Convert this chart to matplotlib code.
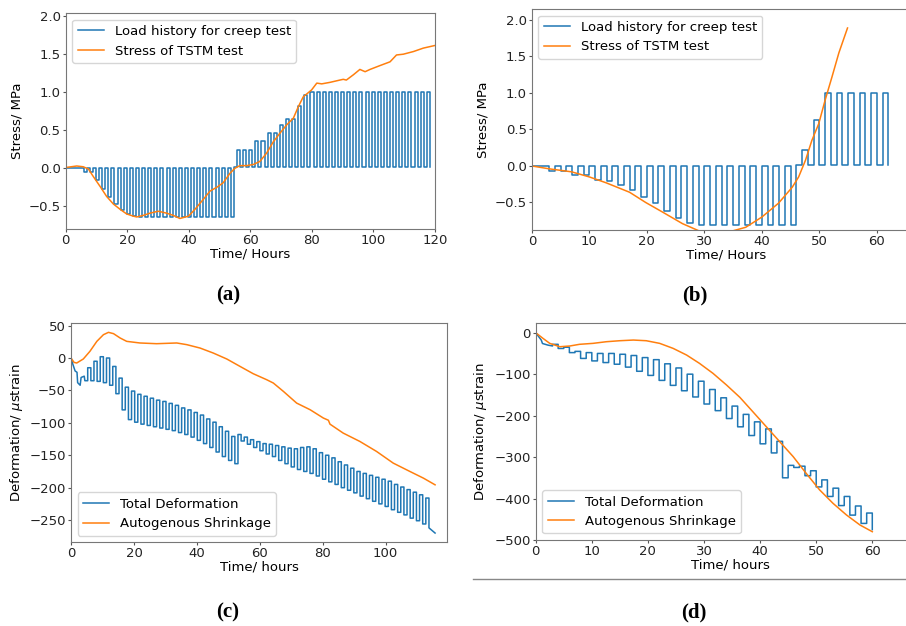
import numpy as np
import matplotlib
matplotlib.use("Agg")
import matplotlib.pyplot as plt
from matplotlib.lines import Line2D

BLUE = "#1f77b4"
ORANGE = "#ff7f0e"

# ---- (a) load history, 120 h test ----
a_start = 5.9 + 1.99 * np.arange(57)
a_amp = ([-0.05, -0.05, -0.15, -0.27, -0.38, -0.47, -0.55, -0.60, -0.63]
         + [-0.64] * 16 + [0.24] * 3 + [0.36] * 2 + [0.47] * 2 + [0.57]
         + [0.65] * 2 + [0.82, 0.96] + [1.0] * 20)
a_base = [0.0] * 24 + [0.02] * 33
a_tstm_t = [0, 3.6, 5.7, 7.4, 9, 11.2, 13.3, 15.5, 17.7, 19.8, 22, 23.1, 25.2, 27.4,
            30.1, 32.8, 35, 37.1, 39.9, 42, 44.7, 46.9, 49.1, 51.2, 53.4, 55, 56.6,
            58.8, 61, 63.1, 65.3, 67.5, 69.6, 71.8, 74, 75.6, 77.2, 79.9, 81.6, 83.2,
            85.9, 89.1, 90.2, 91.2, 93.5, 95.6, 97.3, 98.9, 102.1, 105.4, 107.5,
            109.7, 113, 116.2, 120]
a_tstm_v = [0.01, 0.03, 0.02, -0.01, -0.11, -0.24, -0.37, -0.47, -0.54, -0.60, -0.63,
            -0.64, -0.62, -0.59, -0.565, -0.59, -0.62, -0.66, -0.63, -0.54, -0.41,
            -0.30, -0.25, -0.19, -0.065, 0.0, 0.035, 0.035, 0.05, 0.09, 0.20, 0.35,
            0.46, 0.57, 0.66, 0.81, 0.94, 1.03, 1.12, 1.11, 1.13, 1.16, 1.17, 1.16,
            1.23, 1.30, 1.27, 1.30, 1.35, 1.40, 1.49, 1.50, 1.535, 1.58, 1.615]

# ---- (b) load history, 62 h test ----
b_start = 3 + 2 * np.arange(30)
b_amp = ([-0.07, -0.07, -0.13, -0.13, -0.19, -0.20, -0.26, -0.33, -0.42, -0.51,
          -0.61, -0.71, -0.78] + [-0.81] * 9 + [0.22, 0.63] + [1.0] * 6)
b_base = [0.0] * 21 + [0.02] * 9
b_tstm_t = [0, 3.1, 6.9, 10, 12.9, 17, 19.8, 22.7, 26.2, 29.1, 32.5, 34.9, 37.2, 40,
            42.9, 45.3, 46.4, 47.6, 48.7, 49.9, 51, 52.2, 53.4, 54.9]
b_tstm_v = [0, -0.04, -0.08, -0.15, -0.23, -0.36, -0.50, -0.63, -0.79, -0.89, -0.90,
            -0.89, -0.84, -0.70, -0.51, -0.29, -0.15, 0.08, 0.35, 0.58, 0.90, 1.22,
            1.55, 1.89]

# ---- (c) deformation, 120 h test ----
c_pre_t = [0, 0.6, 1.3, 1.9, 2.1, 2.9, 3.2, 4.2, 4.4, 5.3]
c_pre_v = [0, -10, -20, -22, -38, -42, -30, -28, -35, -35]
c_start = 5.3 + 1.99 * np.arange(55)
c_top = [-15, -5, 2, 0, -13, -31, -45, -51, -56, -59, -62, -65, -67, -70, -73, -77,
         -80, -84, -88, -94, -99, -106, -113, -121,
         -118, -122, -126, -129, -132, -133, -135, -137, -139, -140, -138, -137,
         -140, -146, -150, -154, -160, -165, -170, -175, -178, -181, -184, -187,
         -190, -195, -199, -203, -207, -211, -216]
c_bot = [-35, -36, -38, -42, -55, -80, -95, -99, -102, -104, -106, -108, -110, -112,
         -115, -118, -122, -127, -132, -138, -145, -152, -158, -163,
         -128, -133, -138, -143, -148, -152, -158, -163, -168, -172, -175, -178,
         -182, -187, -191, -195, -200, -204, -208, -213, -217, -221, -225, -229,
         -234, -238, -242, -247, -251, -256, -262]
c_end_t, c_end_v = 115.7, -270
c_auto_t = [0, 0.95, 1.8, 3.9, 6, 8.2, 10.3, 11.9, 13.5, 15.6, 17.7, 21.9, 27.2, 33.6,
            36.8, 41, 45.2, 49.5, 53.7, 57.9, 62.2, 64.3, 67.5, 71.7, 76, 80.2, 81.8,
            82.3, 86.5, 91.8, 97.1, 102.4, 107.7, 112, 115.7]
c_auto_v = [0, -6.7, -7.7, -1.5, 10.3, 25.7, 36, 39.6, 37.6, 30.9, 25.7, 23.2, 22.1,
            23.2, 20.6, 15.4, 7.7, -1.5, -12.9, -24.2, -33.5, -38.6, -51.5, -69.5,
            -79.8, -92.6, -96, -102, -115.8, -128.7, -144.1, -162.1, -175, -185.3,
            -195.6]

# ---- (d) deformation, 62 h test ----
d_pre_t = [0, 1.0, 1.2, 2.2, 3.0]
d_pre_v = [0, -18, -26, -30, -32]
d_start = 3 + 2 * np.arange(29)
d_top = [-28, -35, -45, -48, -50, -50, -52, -55, -60, -65, -75, -85, -100, -117,
         -137, -157, -177, -197, -215, -232, -262, -320, -322, -333, -355, -375,
         -395, -418, -435]
d_bot = [-38, -48, -62, -68, -72, -76, -83, -93, -103, -115, -127, -140, -155, -172,
         -188, -207, -227, -248, -268, -290, -350, -325, -345, -372, -395, -417,
         -440, -460, -475]
d_auto_t = [0, 1.3, 2.5, 4.3, 6.1, 7.8, 10.2, 12.6, 15, 17.4, 19.7, 22.1, 24.5, 26.9,
            29.2, 31.6, 34, 36.4, 38.7, 41.1, 43.5, 45.9, 48.2, 50.6, 53, 55.4, 57.8,
            60]
d_auto_v = [0, -13.7, -25.7, -33.8, -32, -28, -25.7, -21.7, -19.3, -17.7, -19.3,
            -25.7, -37.8, -53.9, -74, -98, -126, -156, -190.5, -226.7, -262.9, -299,
            -339, -379, -411.6, -439.7, -463.8, -480]


def cycles(pre_t, pre_v, starts, first, second, width, end):
    x = list(pre_t)
    y = list(pre_v)
    for i, t in enumerate(starts):
        nxt = starts[i + 1] if i + 1 < len(starts) else end
        x += [t, t + width, t + width, nxt]
        y += [first[i], first[i], second[i], second[i]]
    return x, y


plt.rcParams['font.family'] = ['DejaVu Sans']
plt.rcParams['font.size'] = 9.5
plt.rcParams['axes.edgecolor'] = '#777777'
plt.rcParams['xtick.color'] = '#555555'
plt.rcParams['ytick.color'] = '#555555'
plt.rcParams['xtick.labelcolor'] = '#222222'
plt.rcParams['ytick.labelcolor'] = '#222222'
plt.rcParams['xtick.major.size'] = 2.5
plt.rcParams['ytick.major.size'] = 2.5
plt.rcParams['xtick.major.pad'] = 1.2
plt.rcParams['ytick.major.pad'] = 1.2
plt.rcParams['axes.labelpad'] = 3.5

fig = plt.figure(figsize=(9.06, 6.26), dpi=100)

# (a)
ax = fig.add_axes([0.0725, 0.634, 0.4076, 0.345])
x, y = cycles([0, a_start[0]], [0, 0], a_start, a_amp, a_base, 1.0, a_start[-1] + 1.0)
ax.plot(x, y, color=BLUE, lw=1.1, label='Load history for creep test')
ax.plot(a_tstm_t, a_tstm_v, color=ORANGE, lw=1.1, label='Stress of TSTM test')
ax.set_xlim(0, 120)
ax.set_ylim(-0.80, 2.04)
ax.set_xticks([0, 20, 40, 60, 80, 100, 120])
ax.set_yticks([-0.5, 0.0, 0.5, 1.0, 1.5, 2.0])
ax.set_xlabel('Time/ Hours', labelpad=0)
ax.set_ylabel('Stress/ MPa')
ax.legend(loc='upper left')

# (b)
ax = fig.add_axes([0.587, 0.6326, 0.43, 0.353])
x, y = cycles([0, b_start[0]], [0, 0], b_start, b_amp, b_base, 1.0, 62)
ax.plot(x, y, color=BLUE, lw=1.1, label='Load history for creep test')
ax.plot(b_tstm_t, b_tstm_v, color=ORANGE, lw=1.1, label='Stress of TSTM test')
ax.set_xlim(0, 67.75)
ax.set_ylim(-0.877, 2.15)
ax.set_xticks([0, 10, 20, 30, 40, 50, 60])
ax.set_yticks([-0.5, 0.0, 0.5, 1.0, 1.5, 2.0])
ax.set_xlabel('Time/ Hours', labelpad=0)
ax.set_ylabel('Stress/ MPa')
ax.legend(loc='upper left')

# (c)
ax = fig.add_axes([0.0784, 0.134, 0.415, 0.350])
x, y = cycles(c_pre_t, c_pre_v, c_start, c_top, c_bot, 1.0, c_start[-1] + 1.0)
x.append(c_end_t)
y.append(c_end_v)
ax.plot(x, y, color=BLUE, lw=1.1, label='Total Deformation')
ax.plot(c_auto_t, c_auto_v, color=ORANGE, lw=1.1, label='Autogenous Shrinkage')
ax.set_xlim(0, 119.5)
ax.set_ylim(-284, 54)
ax.set_xticks([0, 20, 40, 60, 80, 100])
ax.set_yticks([-250, -200, -150, -100, -50, 0, 50])
ax.set_xlabel('Time/ hours', labelpad=0)
ax.set_ylabel(r'Deformation/ $\mu$strain')
ax.legend(loc='lower left')

# (d)
ax = fig.add_axes([0.5913, 0.1374, 0.43, 0.347])
x, y = cycles(d_pre_t, d_pre_v, d_start, d_top, d_bot, 1.0, 60)
ax.plot(x, y, color=BLUE, lw=1.1, label='Total Deformation')
ax.plot(d_auto_t, d_auto_v, color=ORANGE, lw=1.1, label='Autogenous Shrinkage')
ax.set_xlim(0, 69.45)
ax.set_ylim(-500, 24)
ax.set_xticks([0, 10, 20, 30, 40, 50, 60])
ax.set_yticks([-500, -400, -300, -200, -100, 0])
ax.set_xlabel('Time/ hours', labelpad=0)
ax.set_ylabel(r'Deformation/ $\mu$strain')
ax.legend(loc='lower left')

# panel captions
for lab, px, py in [('(a)', 228, 295), ('(b)', 695, 295), ('(c)', 228, 612), ('(d)', 694, 612)]:
    fig.text(px / 906, 1 - py / 626, lab, ha='center', va='center',
             family=['Liberation Serif'], fontweight='bold', fontsize=15)

# frame line under panel (d)
fig.add_artist(Line2D([473 / 906, 1.0], [1 - 579 / 626, 1 - 579 / 626],
                      color='#888888', lw=1.0))

fig.savefig('out.png', dpi=100)
